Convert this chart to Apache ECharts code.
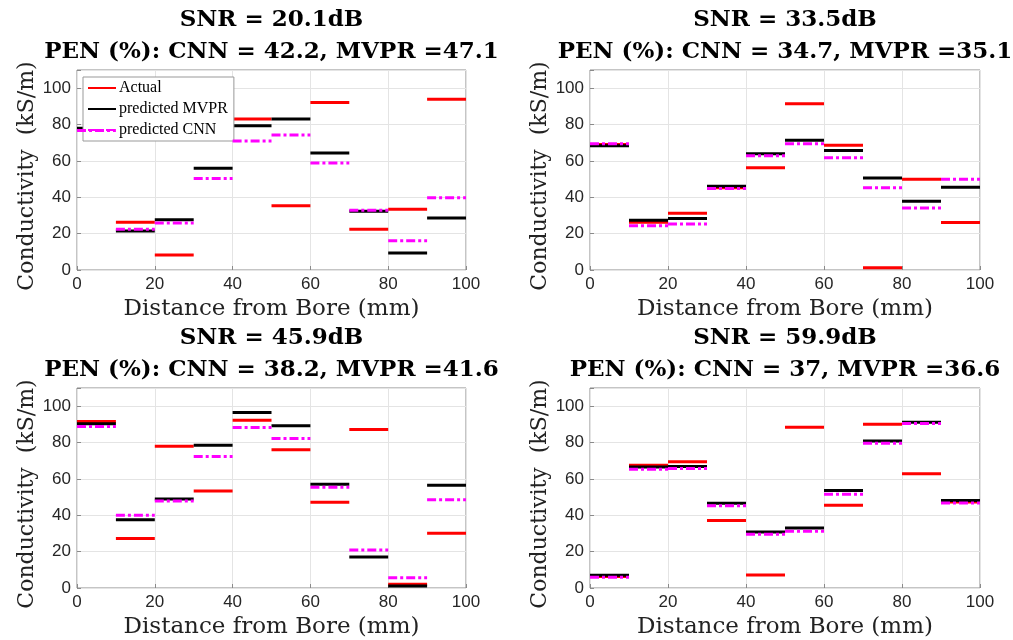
<!DOCTYPE html>
<html>
<head>
<meta charset="utf-8">
<script src="https://cdn.jsdelivr.net/npm/echarts@6/dist/echarts.min.js"></script>
<style>html,body{margin:0;padding:0;background:#fff}#c{width:1013px;height:640px}</style>
</head>
<body>
<div id="c"></div>
<script>
// segment edges (mm)
const edges = [0, 10, 20, 30, 40, 50, 60, 70, 80, 90, 100];
const yTicks = [0, 20, 40, 60, 80, 100];
const xTicks = [0, 20, 40, 60, 80, 100];

const titles = [
  ['SNR = 20.1dB', 'PEN (%): CNN = 42.2, MVPR =47.1'],
  ['SNR = 33.5dB', 'PEN (%): CNN = 34.7, MVPR =35.1'],
  ['SNR = 45.9dB', 'PEN (%): CNN = 38.2, MVPR =41.6'],
  ['SNR = 59.9dB', 'PEN (%): CNN = 37, MVPR =36.6']
];

// panel 1: SNR 20.1 dB
const actual1 = [77.2, 26.2, 8.3, 72.8, 83.1, 35.4, 92.1, 22.4, 33.4, 93.9];
const mvpr1   = [78.0, 21.5, 27.7, 56.0, 79.4, 83.1, 64.4, 32.3, 9.4, 28.6];
const cnn1    = [76.7, 22.4, 25.9, 50.3, 71.0, 74.3, 58.9, 32.8, 16.1, 39.8];
// panel 2: SNR 33.5 dB
const actual2 = [69.0, 26.2, 31.2, 45.3, 56.3, 91.4, 68.6, 1.3, 49.9, 26.1];
const mvpr2   = [68.4, 27.3, 28.3, 46.1, 64.0, 71.4, 65.7, 50.6, 37.8, 45.5];
const cnn2    = [69.4, 24.4, 25.3, 44.8, 62.9, 69.4, 61.7, 45.3, 34.1, 49.9];
// panel 3: SNR 45.9 dB
const actual3 = [91.6, 27.2, 78.0, 53.4, 92.3, 76.1, 47.2, 87.2, 2.0, 30.1];
const mvpr3   = [90.3, 37.6, 49.0, 78.5, 96.5, 89.2, 57.0, 17.1, 1.1, 56.5];
const cnn3    = [88.8, 40.0, 47.9, 72.3, 88.3, 82.2, 55.4, 20.9, 5.7, 48.6];
// panel 4: SNR 59.9 dB
const actual4 = [6.3, 67.5, 69.5, 37.1, 7.2, 88.4, 45.5, 90.1, 62.8, 47.3];
const mvpr4   = [7.0, 66.6, 66.8, 46.6, 30.8, 33.0, 53.6, 80.9, 91.2, 48.1];
const cnn4    = [5.9, 65.3, 65.7, 45.3, 29.5, 31.2, 51.6, 79.6, 90.5, 46.8];

const panels = [
  [actual1, mvpr1, cnn1],
  [actual2, mvpr2, cnn2],
  [actual3, mvpr3, cnn3],
  [actual4, mvpr4, cnn4]
];
const seriesNames = ['Actual', 'predicted MVPR', 'predicted CNN'];
const seriesColors = ['#ff0000', '#000000', '#ff00ff'];
const seriesDash = ['solid', 'solid', [9, 3, 3, 3]];

function steps(vals) {
  const d = [];
  for (let i = 0; i < vals.length; i++) {
    d.push([edges[i], vals[i]]);
    d.push([edges[i + 1], vals[i]]);
    d.push([edges[i + 1], '-']);
  }
  return d;
}

const gridPos = [
  { left: 77, top: 70, width: 389, height: 200 },
  { left: 590, top: 70, width: 390, height: 200 },
  { left: 77, top: 388, width: 389, height: 200 },
  { left: 590, top: 388, width: 390, height: 200 }
];

const grids = [], xAxes = [], yAxes = [], series = [], titleOpts = [];
const boxColor = '#8a8a8a';
gridPos.forEach((g, i) => {
  grids.push(Object.assign({ show: true, borderColor: boxColor, borderWidth: 1, backgroundColor: '#fff' }, g));
  xAxes.push({
    type: 'value', gridIndex: i, min: 0, max: 100, interval: 20,
    name: 'Distance from Bore (mm)', nameLocation: 'middle', nameGap: 28,
    nameTextStyle: { fontFamily: 'DejaVu Serif', fontSize: 23, color: '#222' },
    axisLine: { show: false },
    axisTick: { show: true, inside: true, length: 4, lineStyle: { color: boxColor } },
    axisLabel: { fontFamily: 'Liberation Sans', fontSize: 17, color: '#262626', margin: 6,
      formatter: v => xTicks.includes(v) ? String(v) : '' },
    splitLine: { show: true, lineStyle: { color: '#e4e4e4', width: 1 } }
  });
  yAxes.push({
    type: 'value', gridIndex: i, min: 0, max: 110, interval: 20,
    name: 'Conductivity  (kS/m)', nameLocation: 'middle', nameGap: 39,
    nameTextStyle: { fontFamily: 'DejaVu Serif', fontSize: 22, color: '#222', padding: [0, 12, 0, 0] },
    axisLine: { show: false },
    axisTick: { show: true, inside: true, length: 4, lineStyle: { color: boxColor } },
    axisLabel: { fontFamily: 'Liberation Sans', fontSize: 17, color: '#262626', margin: 6,
      formatter: v => yTicks.includes(v) ? String(v) : '' },
    splitLine: { show: true, lineStyle: { color: '#e4e4e4', width: 1 } }
  });
  panels[i].forEach((vals, k) => {
    series.push({
      type: 'line', name: seriesNames[k], xAxisIndex: i, yAxisIndex: i,
      data: steps(vals), symbol: 'none', connectNulls: false, z: 2 + k,
      lineStyle: { color: seriesColors[k], width: 3, type: seriesDash[k], cap: 'butt' },
      itemStyle: { color: seriesColors[k] },
      emphasis: { disabled: true }
    });
  });
  titleOpts.push({
    text: titles[i].join('\n'),
    left: g.left + g.width / 2, top: g.top - 66, textAlign: 'center', padding: 0,
    textStyle: { fontFamily: 'DejaVu Serif', fontWeight: 'bold', fontSize: 23, lineHeight: 32, color: '#000' }
  });
});

const chart = echarts.init(document.getElementById('c'), null, { renderer: 'canvas' });
chart.setOption({
  animation: false,
  backgroundColor: '#fff',
  title: titleOpts,
  grid: grids,
  xAxis: xAxes,
  yAxis: yAxes,
  legend: {
    left: 83, top: 77, orient: 'vertical',
    data: seriesNames,
    itemWidth: 28, itemHeight: 10, itemGap: 5,
    padding: [3, 6, 3, 4],
    backgroundColor: '#fff', borderColor: '#999', borderWidth: 1, borderRadius: 0,
    itemStyle: { opacity: 0 },
    textStyle: { fontFamily: 'Liberation Serif', fontSize: 16, color: '#000', padding: [0, 0, 0, -2] },
    selectedMode: false
  },
  series: series
});
</script>
</body>
</html>
